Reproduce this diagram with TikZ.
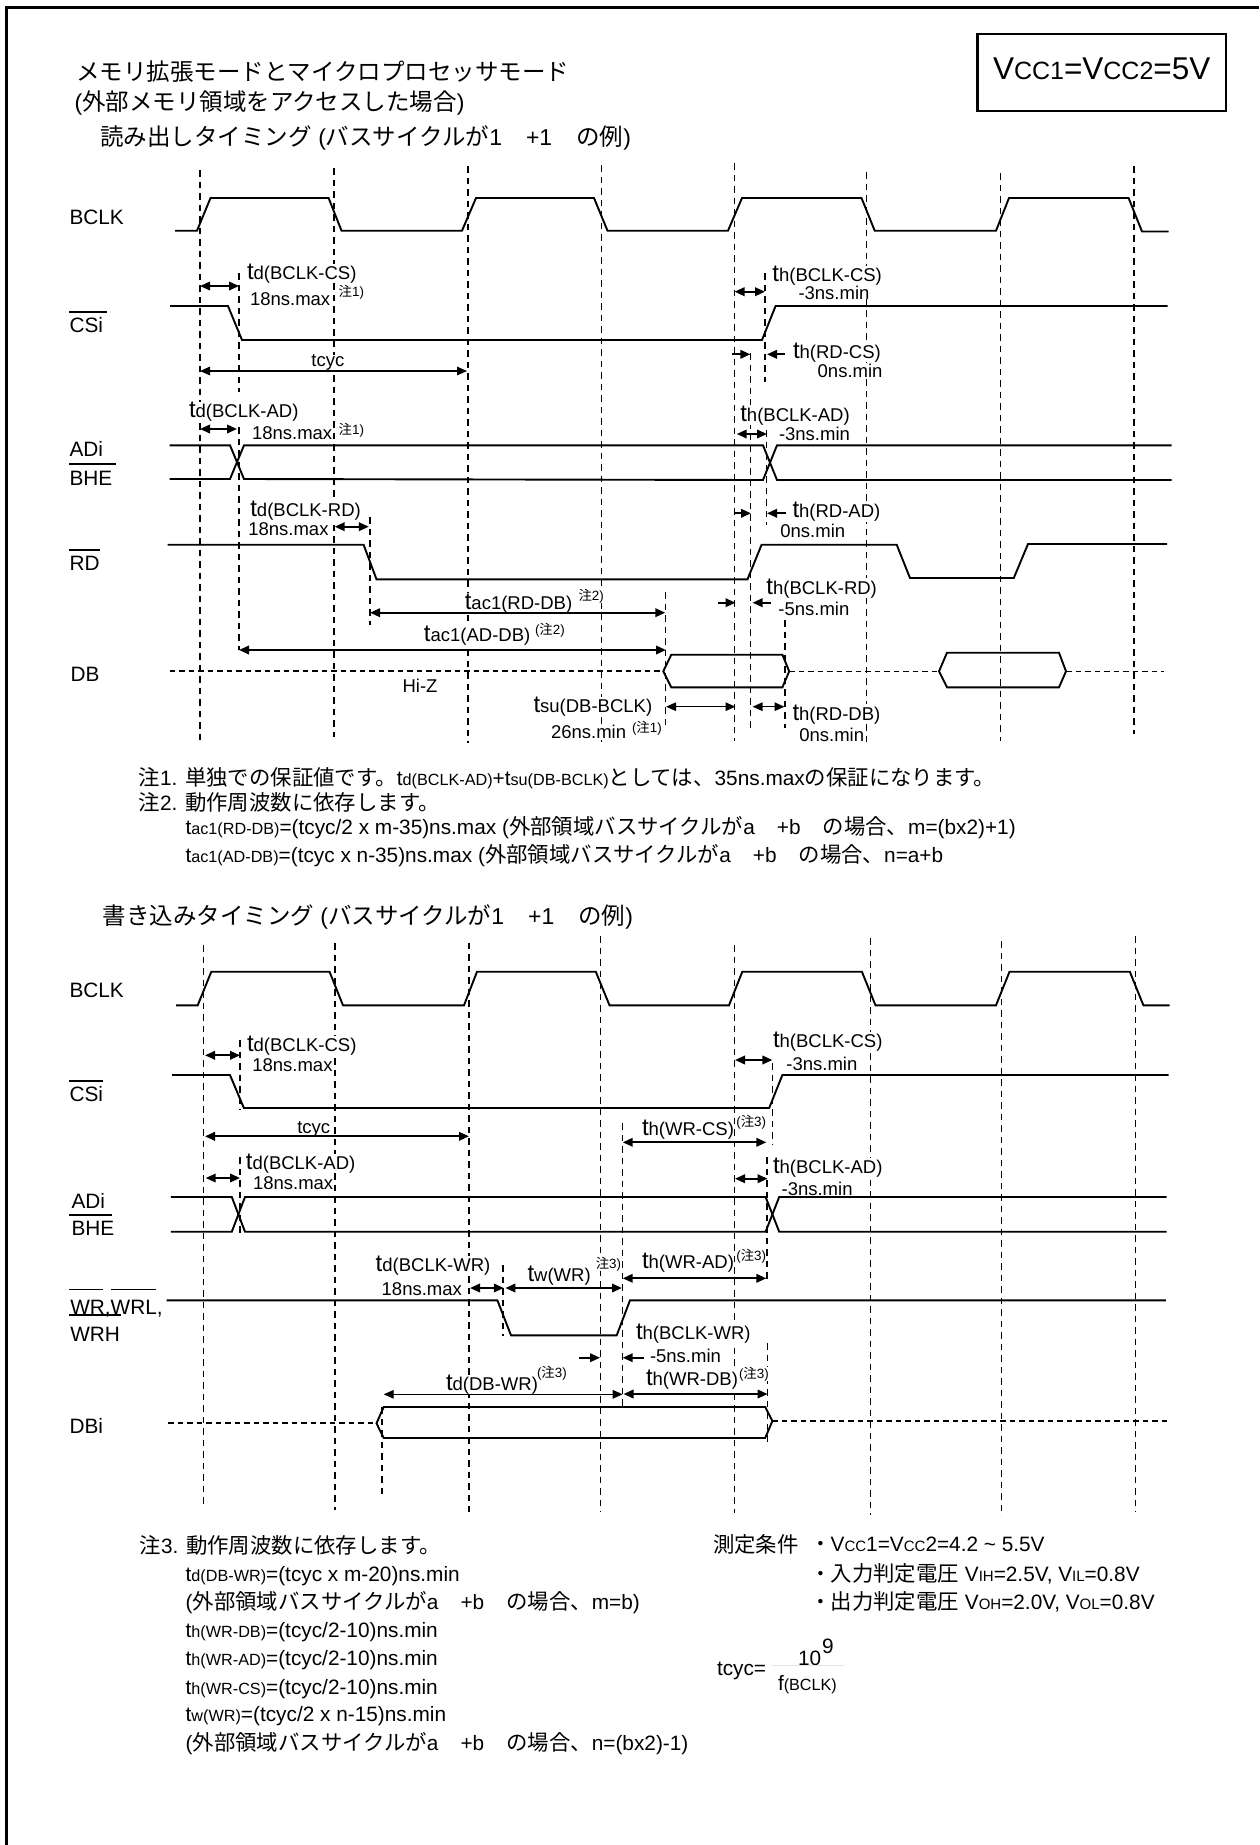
\documentclass[tikz,border=0pt]{standalone}
\usepackage{fontspec}
\usetikzlibrary{arrows.meta}
\setmainfont{Liberation Sans}
\newfontfamily\cjkf{Noto Sans CJK JP}
\newcommand\fsz[1]{\fontsize{#1}{#1}\selectfont}
\newcommand\J[1]{{\cjkf #1}}
\newcommand\Jt[1]{{\fsz{23.5}\cjkf #1}}
\newcommand\Jn[1]{{\fsz{21.4}\cjkf #1}}
% t + small text, diagram labels
\newcommand\Tt[1]{{\fsz{24}t}{\fsz{18.5}#1}}
% t + small text, notes
\newcommand\Ts[1]{{\fsz{20.8}t}{\fsz{16.2}#1}}
\newcommand\Nt[1]{{\fsz{13.4}#1}}
\newcommand\VV[1]{V{\fsz{15}#1}}
\newcounter{tc}
\tikzset{
  lab/.style={anchor=base west,inner sep=0pt,outer sep=0pt},
  labw/.style={lab,fill=white},
  wave/.style={line width=1.9pt,line join=miter,black},
  hiz/.style={line width=2pt,dash pattern=on 5.5pt off 4pt,black},
  hizthin/.style={line width=1.5pt,dash pattern=on 5.5pt off 4pt,black},
  vdash/.style={line width=1.35pt,dash pattern=on 6.5pt off 5pt,black},
  frameline/.style={line width=3pt,black},
  boxline/.style={line width=2.2pt,black},
  oline/.style={line width=1.6pt,black},
  dimb/.style={line width=2pt,{Triangle[length=10pt,width=8.5pt]}-{Triangle[length=10pt,width=8.5pt]}},
  dimr/.style={line width=2pt,-{Triangle[length=10pt,width=8.5pt]}},
  dimt/.style={line width=1.3pt,{Triangle[length=10pt,width=8.5pt]}-{Triangle[length=10pt,width=8.5pt]}},
}
\newcommand\tx[3]{\stepcounter{tc}\node[lab] (t\arabic{tc}) at (#1,#2) {#3};}
\newcommand\tw[3]{\stepcounter{tc}\node[labw] (t\arabic{tc}) at (#1,#2) {#3};}
\begin{document}
\begin{tikzpicture}[x=1pt,y=-1pt]
\useasboundingbox (0,0) rectangle (1259,1845);
\fill[white] (0,0) rectangle (1259,1845);
% frame (left and top only visible)
\draw[frameline] (6,1845) -- (6,7.5) -- (1259,7.5);
\draw[boxline] (977.4,34) rectangle (1225.7,111);
\node[lab] (vcc) at (993,79.3) {\fsz{31.5}V{\fsz{25}CC1}=V{\fsz{25}CC2}=5V};

% ---- READ: dashed guides
\foreach \xx/\ya/\yb in {200/170/740, 334/168/737, 468/166/743, 601.5/165/742, 734.7/163/741, 866.7/172/743, 1000.6/173/741, 1134/166/734,
  239/273/392, 239/427/650, 765/273/382, 750.7/353/730, 766.8/430/525, 370/517/625, 665.7/592/727, 785/620/728}
  \draw[vdash] (\xx,\ya) -- (\xx,\yb);

% ---- READ: white-backed labels
\tw{247}{279.3}{\Tt{d(BCLK-CS)}}
\tw{250}{305}{\fsz{18.5}18ns.max}
\tw{338.7}{296}{\Nt{\J{注}1)}}
\tw{311.4}{366.7}{\fsz{18.5}tcyc}
\tw{189}{417.7}{\Tt{d(BCLK-AD)}}
\tw{252}{439.3}{\fsz{18.5}18ns.max}
\tw{338.7}{434}{\Nt{\J{注}1)}}
\tw{772.4}{281.7}{\Tt{h(BCLK-CS)}}
\tw{798.5}{299.3}{\fsz{18.5}-3ns.min}
\tw{793}{358.3}{\Tt{h(RD-CS)}}
\tw{817.7}{377.7}{\fsz{18.5}0ns.min}
\tw{740.3}{421}{\Tt{h(BCLK-AD)}}
\tw{779}{440}{\fsz{18.5}-3ns.min}
\tw{250.3}{516.7}{\Tt{d(BCLK-RD)}}
\tw{248.3}{535}{\fsz{18.5}18ns.max}
\tw{792.5}{517.7}{\Tt{h(RD-AD)}}
\tw{780.4}{537.7}{\fsz{18.5}0ns.min}
\tw{766.4}{594}{\Tt{h(BCLK-RD)}}
\tw{778.4}{615}{\fsz{18.5}-5ns.min}
\tw{464.8}{609}{\Tt{ac1(RD-DB)}}
\tw{578.5}{600}{\Nt{\J{注}2)}}
\tw{423.9}{641.7}{\Tt{ac1(AD-DB)}}
\tw{535}{634}{\Nt{(\J{注}2)}}
\tw{402.6}{692.7}{\fsz{18.5}Hi-Z}
\tw{533.5}{712.7}{\Tt{su(DB-BCLK)}}
\tw{551}{738.3}{\fsz{18.5}26ns.min}
\tw{632}{732.7}{\Nt{(\J{注}1)}}
\tw{792.5}{720}{\Tt{h(RD-DB)}}
\tw{799.3}{741}{\fsz{18.5}0ns.min}

% ---- READ: waves
\draw[wave] (175,230.7) -- (197,230.7) -- (210.5,198) -- (328.6,198) -- (341.5,230.7) -- (462,230.7) -- (476,198) -- (594,198) -- (607.5,230.7) -- (728,230.7) -- (742,198) -- (861.5,198) -- (874.7,230.7) -- (996,230.7) -- (1009,198) -- (1128.6,198) -- (1142,231.5) -- (1168.7,231.5);
\draw[wave] (170,306) -- (228,306) -- (242,340) -- (762,340) -- (775.6,306) -- (1167.5,306);
\draw[wave] (169.5,445.3) -- (230,445.3) -- (244,479) -- (763,480) -- (777,445.3) -- (1171.5,445.3);
\draw[wave] (169.5,479) -- (230,479) -- (244,445.3) -- (763,445.3) -- (777,480) -- (1171.5,480);
\draw[wave] (167.5,544.7) -- (363.6,544.7) -- (376.5,579.3) -- (747.5,579.3) -- (761.6,544.7) -- (896.7,544.7) -- (910,578) -- (1013.8,578) -- (1028,544) -- (1167,544);
\draw[hiz] (169.5,671.3) -- (663.3,671.3);
\draw[wave] (671.3,654.7) -- (663.3,671.3) -- (671.3,687.3) -- (782.4,687.3) -- (789.2,671.3) -- (782.4,654.7) -- cycle;
\draw[hizthin] (789.2,671.3) -- (939,671.3);
\draw[wave] (947,652.7) -- (939,671.3) -- (947,687.3) -- (1059,687.3) -- (1066,671.3) -- (1059,652.7) -- cycle;
\draw[hizthin] (1066,671.3) -- (1163.5,671.3);

% ---- READ: dimension arrows
\draw[dimb] (200,286) -- (239,286);
\draw[dimt] (200,371) -- (467,371);
\draw[dimb] (200,429) -- (237,429);
\draw[dimb] (734.5,291.7) -- (765,291.7);
\draw[dimr] (731.5,354.3) -- (750.4,354.3);
\draw[dimr] (785,354.3) -- (767,354.3);
\draw[dimb] (736.7,434) -- (767,434);
\draw[dimb] (334.7,526.7) -- (368.8,526.7);
\draw[dimr] (735,513.3) -- (751,513.3);
\draw[dimr] (785.6,513.3) -- (767,513.3);
\draw[dimb] (370,612.7) -- (665.3,612.7);
\draw[dimb] (239,650) -- (666,650);
\draw[dimr] (718,602.7) -- (735.5,602.7);
\draw[dimr] (771.3,602.7) -- (752.5,602.7);
\draw[dimt] (666,706.7) -- (735.5,706.7);
\draw[dimt] (752.5,706.7) -- (784.5,706.7);

% ---- READ: signal names
\tx{69.5}{224}{\fsz{20.8}BCLK}
\tx{69.5}{332.7}{\fsz{20.8}CSi}
\tx{69.5}{456}{\fsz{20.8}ADi}
\tx{69.5}{485}{\fsz{20.8}BHE}
\tx{69.5}{570.7}{\fsz{20.8}RD}
\tx{70.5}{681.7}{\fsz{20.8}DB}
\draw[oline] (69,312) -- (107,312);
\draw[oline] (69,463.7) -- (115.7,463.7);
\draw[oline] (69,550) -- (100,550);

% ---- titles
\tx{76}{80}{\fsz{23}\Jt{メモリ拡張モードとマイクロプロセッサモード}}
\tx{74.5}{110}{\fsz{23}(\Jt{外部メモリ領域をアクセスした場合})}
\tx{100.4}{145}{\fsz{23}\Jt{読み出しタイミング} (\Jt{バスサイクルが}1\hspace{24pt}+1\hspace{24pt}\Jt{の例})}

% ---- notes 1, 2
\tx{138.6}{785}{\fsz{20.8}\Jn{注}1. \Jn{単独での保証値です。}\Ts{d(BCLK-AD)}+\Ts{su(DB-BCLK)}\Jn{としては、}35ns.max\Jn{の保証になります。}}
\tx{138.6}{810}{\fsz{20.8}\Jn{注}2. \Jn{動作周波数に依存します。}}
\tx{185.6}{834}{\fsz{20.8}\Ts{ac1(RD-DB)}=(tcyc/2 x m-35)ns.max (\Jn{外部領域バスサイクルが}a\hspace{22pt}+b\hspace{22pt}\Jn{の場合、}m=(bx2)+1)}
\tx{185.6}{862.3}{\fsz{20.8}\Ts{ac1(AD-DB)}=(tcyc x n-35)ns.max (\Jn{外部領域バスサイクルが}a\hspace{22pt}+b\hspace{22pt}\Jn{の場合、}n=a+b}

% ---- WRITE
\tx{102.5}{924}{\fsz{23}\Jt{書き込みタイミング} (\Jt{バスサイクルが}1\hspace{24pt}+1\hspace{24pt}\Jt{の例})}
\foreach \xx/\ya/\yb in {203.7/945/1505, 335/943/1510, 468.9/942.7/1512, 600.6/936/1512, 734.3/945/1513, 870.7/938/1515, 1001.8/941/1516, 1135.8/936/1512,
  240/1040/1110, 240/1157/1235, 772.4/1063/1145, 767/1157/1282, 767.6/1343/1442, 622.7/1123/1408, 503/1265/1336, 382/1407/1497}
  \draw[vdash] (\xx,\ya) -- (\xx,\yb);

\tw{247}{1051.7}{\Tt{d(BCLK-CS)}}
\tw{252.3}{1071}{\fsz{18.5}18ns.max}
\tw{773}{1047.7}{\Tt{h(BCLK-CS)}}
\tw{786.4}{1070}{\fsz{18.5}-3ns.min}
\tw{297.3}{1133.3}{\fsz{18.5}tcyc}
\tw{642}{1135}{\Tt{h(WR-CS)}}
\tw{736.3}{1126}{\Nt{(\J{注}3)}}
\tw{245.9}{1169.3}{\Tt{d(BCLK-AD)}}
\tw{253}{1189.3}{\fsz{18.5}18ns.max}
\tw{773}{1173.3}{\Tt{h(BCLK-AD)}}
\tw{781.6}{1195}{\fsz{18.5}-3ns.min}
\tw{375.7}{1271}{\Tt{d(BCLK-WR)}}
\tw{381.7}{1295}{\fsz{18.5}18ns.max}
\tw{527.5}{1281}{\Tt{w(WR)}}
\tw{595.8}{1268.3}{\Nt{\J{注}3)}}
\tw{642}{1268.3}{\Tt{h(WR-AD)}}
\tw{736.3}{1260}{\Nt{(\J{注}3)}}
\tw{636}{1339}{\Tt{h(BCLK-WR)}}
\tw{650}{1362.3}{\fsz{18.5}-5ns.min}
\tw{446}{1390}{\Tt{d(DB-WR)}}
\tw{537}{1377.7}{\Nt{(\J{注}3)}}
\tw{646}{1385.7}{\Tt{h(WR-DB)}}
\tw{739}{1378.3}{\Nt{(\J{注}3)}}

\draw[wave] (176,1005.3) -- (197.7,1005.3) -- (211.3,971.7) -- (329.5,971.7) -- (343,1005.3) -- (464,1005.3) -- (477,971.7) -- (595.8,971.7) -- (609.5,1005.3) -- (729,1005.3) -- (742.3,971.7) -- (861.9,971.7) -- (875.5,1005.3) -- (996,1005.3) -- (1009.5,971.7) -- (1129.8,971.7) -- (1143.4,1005.3) -- (1169.5,1005.3);
\draw[wave] (172,1075) -- (230,1075) -- (243.9,1108) -- (769.2,1108) -- (782.4,1075) -- (1168.7,1075);
\draw[wave] (170.8,1197) -- (231.8,1197) -- (245,1231.7) -- (765.6,1231.7) -- (779.2,1197) -- (1166.7,1197);
\draw[wave] (170.8,1231.7) -- (231.8,1231.7) -- (245,1197) -- (765.6,1197) -- (779.2,1231.7) -- (1166.7,1231.7);
\draw[wave] (166.7,1300.3) -- (497.4,1300.3) -- (511,1335.3) -- (616.7,1335.3) -- (630,1300.3) -- (1165.9,1300.3);
\draw[hiz] (168,1423.3) -- (376.5,1423.3);
\draw[wave] (383.7,1407) -- (376.5,1423.3) -- (383.7,1438) -- (765.2,1438) -- (772.4,1421) -- (765.2,1407) -- cycle;
\draw[hizthin] (772.4,1421) -- (1168.7,1421);

\draw[dimb] (205,1055.3) -- (240,1055.3);
\draw[dimb] (205,1136.3) -- (469,1136.3);
\draw[dimb] (205.7,1178) -- (240,1178);
\draw[dimb] (735,1060) -- (772.4,1060);
\draw[dimb] (622.7,1142.3) -- (766.4,1142.3);
\draw[dimb] (735,1178.7) -- (767.6,1178.7);
\draw[dimb] (470,1288) -- (503.8,1288);
\draw[dimb] (505.4,1288) -- (622,1288);
\draw[dimb] (622.7,1278.3) -- (766.4,1278.3);
\draw[dimr] (578.5,1357.7) -- (600,1357.7);
\draw[dimr] (644,1357.7) -- (622.7,1357.7);
\draw[dimt] (383.7,1394.3) -- (622.7,1394.3);
\draw[dimb] (623.5,1394) -- (767.6,1394);

\tx{69.5}{997.3}{\fsz{20.8}BCLK}
\tx{69.5}{1101.3}{\fsz{20.8}CSi}
\tx{71.5}{1208.3}{\fsz{20.8}ADi}
\tx{71.5}{1235.7}{\fsz{20.8}BHE}
\tx{70.3}{1314.3}{\fsz{20.8}WR,WRL,}
\tx{70.3}{1341.7}{\fsz{20.8}WRH}
\tx{69.5}{1433.3}{\fsz{20.8}DBi}
\draw[oline] (69,1081) -- (103,1081);
\draw[oline] (69,1214.7) -- (112,1214.7);
\draw[oline] (69,1289.3) -- (102.5,1289.3);
\draw[oline] (110.5,1289.3) -- (156,1289.3);
\draw[oline] (69,1315) -- (120.5,1315);

% ---- note 3
\tx{139.6}{1553}{\fsz{20.8}\Jn{注}3. \Jn{動作周波数に依存します。}}
\tx{185.7}{1581.7}{\fsz{20.8}\Ts{d(DB-WR)}=(tcyc x m-20)ns.min}
\tx{185.7}{1609.3}{\fsz{20.8}(\Jn{外部領域バスサイクルが}a\hspace{22pt}+b\hspace{22pt}\Jn{の場合、}m=b)}
\tx{185.7}{1637.3}{\fsz{20.8}\Ts{h(WR-DB)}=(tcyc/2-10)ns.min}
\tx{185.7}{1665}{\fsz{20.8}\Ts{h(WR-AD)}=(tcyc/2-10)ns.min}
\tx{185.7}{1694}{\fsz{20.8}\Ts{h(WR-CS)}=(tcyc/2-10)ns.min}
\tx{185.7}{1721.7}{\fsz{20.8}\Ts{w(WR)}=(tcyc/2 x n-15)ns.min}
\tx{185.7}{1750}{\fsz{20.8}(\Jn{外部領域バスサイクルが}a\hspace{22pt}+b\hspace{22pt}\Jn{の場合、}n=(bx2)-1)}

% ---- conditions
\tx{713}{1552.3}{\fsz{20.8}\Jn{測定条件}}
\tx{810}{1551.7}{\fsz{20.8}\J{・}}
\tx{830.7}{1551.7}{\fsz{20.8}\VV{CC}1=\VV{CC}2=4.2 \textasciitilde\ 5.5V}
\tx{810}{1581}{\fsz{20.8}\J{・}}
\tx{830.7}{1581}{\fsz{20.8}\Jn{入力判定電圧} \VV{IH}=2.5V, \VV{IL}=0.8V}
\tx{810}{1609}{\fsz{20.8}\J{・}}
\tx{830.7}{1609}{\fsz{20.8}\Jn{出力判定電圧} \VV{OH}=2.0V, \VV{OL}=0.8V}
\tx{717}{1675}{\fsz{20.8}tcyc=}
\tx{798}{1665.7}{\fsz{20.8}10}
\tx{822}{1653.3}{\fsz{20.8}9}
\tx{778}{1690}{{\fsz{20.8}f}{\fsz{16.2}(BCLK)}}
\draw[line width=0.6pt,black!10] (772,1665.7) -- (844,1665.7);
\end{tikzpicture}
\end{document}
